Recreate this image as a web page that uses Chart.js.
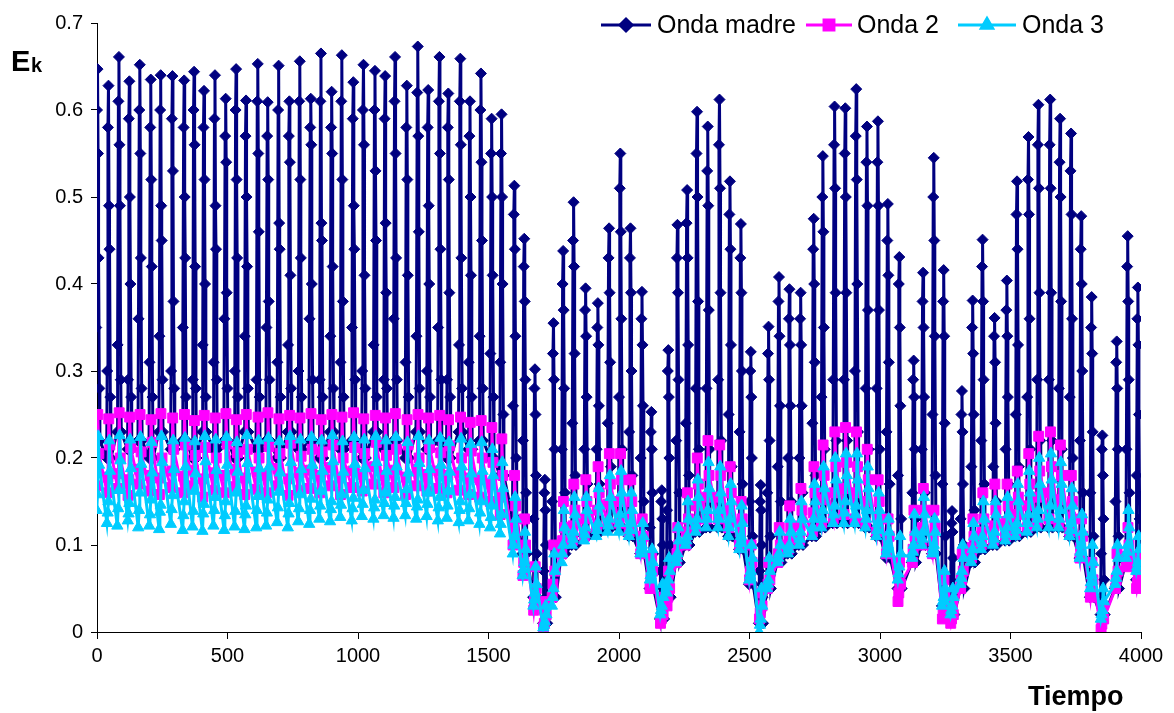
<!DOCTYPE html>
<html>
<head>
<meta charset="utf-8">
<script src="https://cdn.jsdelivr.net/npm/chart.js@4/dist/chart.umd.min.js"></script>
<style>
  html, body { margin: 0; padding: 0; background: #fff; }
  #wrap { width: 1174px; height: 713px; }
</style>
</head>
<body>
<div id="wrap"><canvas id="chart" width="1174" height="713"></canvas></div>
<script>
// time of each oscillation spike
const spikeT = [3,45,85,125,165,207,245,290,335,373,411,453,494,534,572,617,655,697,738,778,
  820,859,900,939,983,1022,1066,1105,1143,1188,1230,1270,1313,1347,1393,1430,1472,1513,1551,1600,
  1638,1679,1717,
  1750,1787,1827,1873,1920,1963,2006,2045,2089,2125,2165,2190,2225,2262,2300,2341,2386,2426,2468,2506,
  2544,2574,2614,2654,2697,2747,2782,2827,2868,2910,2951,2993,3031,3075,3130,3166,3207,3245,3277,3315,
  3356,3394,3440,3487,3526,3570,3608,3653,3691,3733,3772,3812,3853,3908,3950,3989];

// Onda madre: top of each spike, beads on the way up/down, bottom
const madreTop = [0.647,0.628,0.661,0.633,0.652,0.635,0.640,0.639,0.634,0.644,0.622,0.640,0.613,0.647,0.611,0.653,0.609,0.651,0.610,0.656,
  0.613,0.665,0.621,0.663,0.632,0.652,0.645,0.639,0.661,0.628,0.673,0.623,0.661,0.619,0.659,0.610,0.642,0.590,0.595,0.513,
  0.452,0.302,0.175,
  0.355,0.438,0.494,0.395,0.378,0.464,0.550,0.464,0.391,0.253,0.163,0.324,0.468,0.508,0.598,0.581,0.612,0.518,0.469,0.322,
  0.169,0.351,0.408,0.394,0.390,0.475,0.547,0.604,0.602,0.624,0.581,0.587,0.492,0.431,0.312,0.413,0.545,0.416,0.139,0.277,
  0.381,0.451,0.361,0.404,0.518,0.569,0.606,0.612,0.590,0.573,0.478,0.385,0.226,0.334,0.455,0.396];
const madreM4 = [0.60,0.58,0.61,0.59,0.60,0.58,0.60,0.59,0.58,0.60,0.58,0.59,0.57,0.60,0.57,0.61,0.57,0.60,0.57,0.61,
  0.58,0.61,0.58,0.61,0.59,0.60,0.60,0.59,0.61,0.58,0.62,0.58,0.61,0.58,0.61,0.57,0.60,0.55,0.55,0.48,
  0.42,0.28,0.16,
  0.32,0.40,0.45,0.37,0.35,0.43,0.51,0.43,0.36,0.23,0.15,0.30,0.43,0.47,0.55,0.53,0.56,0.48,0.43,0.30,
  0.15,0.32,0.38,0.36,0.36,0.44,0.50,0.56,0.55,0.57,0.54,0.54,0.45,0.40,0.29,0.38,0.50,0.38,0.125,0.25,
  0.35,0.42,0.34,0.37,0.48,0.52,0.56,0.56,0.54,0.53,0.44,0.35,0.21,0.31,0.42,0.36];
const madreM2 = [0.55,0.49,0.56,0.50,0.55,0.52,0.49,0.53,0.50,0.56,0.52,0.49,0.54,0.52,0.50,0.55,0.52,0.47,0.54,0.52,
  0.56,0.47,0.55,0.52,0.49,0.56,0.53,0.47,0.55,0.52,0.57,0.49,0.55,0.52,0.56,0.50,0.54,0.50,0.50,0.44,
  0.38,0.25,0.14,
  0.29,0.37,0.42,0.34,0.33,0.39,0.46,0.39,0.33,0.21,0.13,0.27,0.39,0.43,0.50,0.49,0.51,0.44,0.39,0.27,
  0.14,0.29,0.34,0.33,0.33,0.40,0.46,0.51,0.50,0.52,0.49,0.49,0.41,0.35,0.27,0.35,0.45,0.34,0.115,0.23,
  0.32,0.38,0.31,0.34,0.44,0.48,0.51,0.51,0.50,0.48,0.40,0.32,0.18,0.28,0.38,0.33];
const madreM3 = [0.43,0.44,0.49,0.40,0.43,0.42,0.45,0.38,0.43,0.42,0.40,0.44,0.39,0.43,0.42,0.46,0.38,0.44,0.41,0.43,
  0.40,0.45,0.42,0.38,0.44,0.41,0.45,0.39,0.43,0.41,0.46,0.40,0.44,0.39,0.43,0.41,0.45,0.41,0.40,0.34,
  0.29,0.18,0.10,
  0.21,0.28,0.32,0.27,0.26,0.31,0.36,0.30,0.26,0.16,0.10,0.20,0.29,0.33,0.38,0.37,0.39,0.33,0.30,0.20,
  0.10,0.22,0.26,0.26,0.26,0.31,0.35,0.39,0.39,0.40,0.37,0.37,0.31,0.26,0.21,0.27,0.34,0.24,0.085,0.17,
  0.25,0.29,0.24,0.27,0.33,0.36,0.39,0.39,0.38,0.36,0.30,0.23,0.13,0.21,0.29,0.25];
const madreM1 = [0.35,0.30,0.33,0.29,0.36,0.31,0.34,0.30,0.35,0.29,0.33,0.31,0.36,0.30,0.34,0.29,0.35,0.31,0.33,0.30,
  0.36,0.29,0.34,0.31,0.35,0.30,0.33,0.29,0.36,0.31,0.34,0.30,0.35,0.29,0.33,0.31,0.34,0.32,0.31,0.26,
  0.22,0.13,0.07,
  0.15,0.21,0.24,0.21,0.21,0.24,0.27,0.23,0.20,0.12,0.07,0.14,0.22,0.24,0.28,0.28,0.29,0.25,0.23,0.15,
  0.07,0.16,0.19,0.20,0.20,0.24,0.27,0.29,0.29,0.30,0.28,0.28,0.23,0.18,0.16,0.21,0.25,0.17,0.06,0.13,
  0.19,0.22,0.19,0.21,0.25,0.27,0.29,0.29,0.28,0.27,0.22,0.16,0.09,0.15,0.21,0.18];
const madreM5 = [0.28,0.27,0.29,0.27,0.28,0.27,0.29,0.28,0.27,0.28,0.27,0.29,0.28,0.27,0.28,0.27,0.29,0.27,0.28,0.27,
  0.29,0.27,0.28,0.27,0.29,0.28,0.27,0.28,0.29,0.27,0.28,0.27,0.29,0.27,0.28,0.27,0.28,0.27,0.25,0.20,
  0.16,0.09,0.04,
  0.10,0.16,0.18,0.17,0.17,0.19,0.21,0.18,0.15,0.09,0.045,0.10,0.16,0.18,0.21,0.21,0.22,0.19,0.17,0.11,
  0.04,0.11,0.15,0.15,0.16,0.18,0.21,0.22,0.22,0.23,0.21,0.21,0.17,0.13,0.13,0.16,0.18,0.11,0.045,0.10,
  0.14,0.17,0.15,0.17,0.19,0.21,0.22,0.22,0.21,0.20,0.16,0.11,0.06,0.11,0.16,0.13];
const madreLow = [0.22,0.20,0.23,0.21,0.22,0.20,0.23,0.21,0.22,0.20,0.23,0.21,0.22,0.20,0.23,0.21,0.22,0.20,0.23,0.21,
  0.22,0.20,0.23,0.21,0.22,0.20,0.23,0.21,0.22,0.20,0.23,0.21,0.22,0.20,0.23,0.21,0.22,0.20,0.18,0.13,
  0.09,0.04,0.01,
  0.04,0.09,0.10,0.11,0.115,0.12,0.12,0.11,0.09,0.05,0.015,0.04,0.08,0.10,0.115,0.12,0.12,0.11,0.095,0.055,
  0.01,0.05,0.08,0.09,0.10,0.11,0.12,0.125,0.125,0.125,0.12,0.11,0.085,0.05,0.08,0.10,0.09,0.03,0.02,0.05,
  0.08,0.095,0.10,0.105,0.11,0.115,0.12,0.12,0.12,0.11,0.085,0.04,0.02,0.05,0.08,0.06];

// Onda 2
const onda2Top = [0.25,0.245,0.252,0.247,0.25,0.244,0.251,0.246,0.25,0.243,0.249,0.246,0.251,0.244,0.25,0.247,0.252,0.245,0.249,0.246,
  0.251,0.244,0.25,0.247,0.252,0.245,0.249,0.246,0.251,0.244,0.25,0.246,0.249,0.244,0.247,0.241,0.243,0.235,0.222,0.18,
  0.13,0.075,0.035,
  0.10,0.15,0.17,0.175,0.19,0.205,0.205,0.175,0.13,0.085,0.04,0.07,0.12,0.16,0.20,0.22,0.215,0.19,0.15,0.10,
  0.045,0.08,0.12,0.145,0.165,0.19,0.215,0.23,0.235,0.23,0.21,0.175,0.13,0.08,0.14,0.165,0.14,0.06,0.03,0.09,
  0.13,0.16,0.17,0.17,0.185,0.205,0.225,0.23,0.215,0.18,0.13,0.08,0.03,0.09,0.12,0.085];
const onda2Mid = [0.205,0.215,0.2,0.212,0.207,0.218,0.2,0.21,0.215,0.203,0.212,0.2,0.216,0.206,0.21,0.2,0.213,0.205,0.217,0.202,
  0.21,0.207,0.215,0.2,0.212,0.205,0.218,0.203,0.21,0.215,0.2,0.212,0.206,0.214,0.2,0.208,0.2,0.195,0.18,0.145,
  0.10,0.05,0.02,
  0.07,0.12,0.14,0.15,0.16,0.17,0.175,0.15,0.11,0.07,0.02,0.05,0.10,0.13,0.17,0.18,0.18,0.16,0.13,0.08,
  0.03,0.06,0.10,0.12,0.14,0.16,0.18,0.19,0.195,0.19,0.175,0.15,0.11,0.055,0.11,0.14,0.12,0.04,0.02,0.07,
  0.11,0.13,0.14,0.145,0.155,0.17,0.185,0.19,0.18,0.15,0.11,0.06,0.015,0.07,0.10,0.065];
const onda2Mid2 = [0.185,0.178,0.182,0.175,0.187,0.18,0.177,0.185,0.179,0.186,0.176,0.183,0.18,0.187,0.177,0.184,0.18,0.188,0.176,0.183,
  0.186,0.18,0.189,0.177,0.185,0.181,0.19,0.18,0.186,0.178,0.187,0.181,0.185,0.18,0.183,0.177,0.175,0.17,0.155,0.12,
  0.08,0.035,0.01,
  0.055,0.105,0.122,0.13,0.14,0.147,0.15,0.132,0.10,0.06,0.015,0.04,0.09,0.115,0.145,0.155,0.155,0.14,0.115,0.07,
  0.022,0.055,0.09,0.107,0.122,0.137,0.152,0.16,0.165,0.16,0.15,0.132,0.10,0.045,0.095,0.12,0.105,0.027,0.015,0.06,
  0.097,0.115,0.122,0.127,0.135,0.145,0.155,0.16,0.152,0.132,0.097,0.05,0.009,0.06,0.087,0.057];
const onda2Low = [0.168,0.16,0.165,0.157,0.17,0.162,0.158,0.166,0.16,0.168,0.155,0.163,0.16,0.167,0.158,0.164,0.16,0.168,0.157,0.163,
  0.165,0.16,0.168,0.158,0.166,0.162,0.17,0.16,0.166,0.158,0.168,0.162,0.165,0.16,0.163,0.158,0.155,0.15,0.135,0.10,
  0.065,0.025,0.005,
  0.04,0.09,0.105,0.11,0.12,0.125,0.125,0.115,0.09,0.05,0.01,0.03,0.08,0.10,0.12,0.13,0.13,0.12,0.10,0.06,
  0.015,0.05,0.08,0.095,0.105,0.115,0.125,0.13,0.135,0.13,0.125,0.115,0.09,0.035,0.08,0.10,0.09,0.015,0.01,0.05,
  0.085,0.10,0.105,0.11,0.115,0.12,0.125,0.13,0.125,0.115,0.085,0.04,0.003,0.05,0.075,0.05];

// Onda 3
const onda3Top = [0.225,0.22,0.226,0.221,0.224,0.218,0.225,0.22,0.223,0.219,0.225,0.221,0.224,0.218,0.226,0.22,0.223,0.219,0.225,0.221,
  0.224,0.22,0.226,0.219,0.224,0.221,0.225,0.22,0.224,0.218,0.225,0.22,0.223,0.218,0.222,0.216,0.218,0.21,0.195,0.155,
  0.115,0.075,0.03,
  0.09,0.14,0.155,0.155,0.165,0.18,0.185,0.16,0.125,0.095,0.055,0.085,0.12,0.15,0.175,0.195,0.19,0.17,0.145,0.10,
  0.05,0.085,0.115,0.13,0.15,0.17,0.19,0.20,0.205,0.205,0.19,0.16,0.13,0.11,0.135,0.155,0.13,0.07,0.05,0.10,
  0.125,0.15,0.15,0.155,0.17,0.185,0.20,0.205,0.195,0.165,0.135,0.10,0.05,0.10,0.14,0.11];
const onda3M1 = [0.192,0.185,0.197,0.188,0.193,0.183,0.195,0.187,0.19,0.182,0.196,0.186,0.192,0.184,0.194,0.188,0.19,0.183,0.195,0.187,
  0.192,0.185,0.196,0.184,0.193,0.188,0.195,0.185,0.19,0.183,0.194,0.187,0.192,0.184,0.19,0.182,0.185,0.18,0.165,0.13,
  0.095,0.055,0.02,
  0.07,0.12,0.135,0.14,0.145,0.155,0.16,0.14,0.11,0.08,0.04,0.07,0.105,0.13,0.155,0.165,0.16,0.15,0.125,0.085,
  0.03,0.07,0.10,0.115,0.13,0.15,0.165,0.175,0.18,0.175,0.165,0.14,0.115,0.09,0.115,0.135,0.115,0.05,0.04,0.085,
  0.11,0.13,0.135,0.135,0.15,0.16,0.17,0.175,0.17,0.145,0.115,0.08,0.035,0.085,0.12,0.095];
const onda3M2 = [0.158,0.15,0.163,0.148,0.16,0.152,0.146,0.157,0.15,0.162,0.147,0.155,0.15,0.16,0.145,0.156,0.152,0.161,0.148,0.158,
  0.153,0.162,0.15,0.158,0.154,0.163,0.152,0.16,0.155,0.164,0.152,0.16,0.155,0.162,0.15,0.158,0.15,0.145,0.135,0.11,
  0.08,0.045,0.012,
  0.05,0.10,0.115,0.12,0.125,0.13,0.135,0.125,0.10,0.07,0.03,0.06,0.09,0.11,0.13,0.14,0.14,0.13,0.11,0.07,
  0.015,0.06,0.09,0.10,0.115,0.13,0.14,0.145,0.15,0.145,0.14,0.125,0.10,0.075,0.10,0.115,0.10,0.04,0.03,0.07,
  0.095,0.11,0.115,0.12,0.125,0.135,0.14,0.145,0.14,0.125,0.10,0.065,0.025,0.07,0.10,0.08];
const onda3M3 = [0.14,0.137,0.142,0.136,0.14,0.135,0.138,0.141,0.134,0.139,0.136,0.14,0.134,0.139,0.135,0.14,0.137,0.143,0.136,0.142,
  0.14,0.145,0.141,0.146,0.142,0.147,0.143,0.148,0.145,0.148,0.144,0.147,0.143,0.145,0.14,0.142,0.137,0.132,0.124,0.10,
  0.072,0.037,0.008,
  0.04,0.09,0.107,0.112,0.117,0.122,0.125,0.117,0.095,0.065,0.025,0.052,0.085,0.105,0.122,0.13,0.13,0.12,0.102,0.065,
  0.008,0.055,0.085,0.095,0.107,0.12,0.13,0.135,0.137,0.135,0.13,0.117,0.095,0.067,0.092,0.107,0.095,0.035,0.025,0.062,
  0.087,0.102,0.107,0.112,0.117,0.125,0.13,0.132,0.13,0.117,0.092,0.057,0.02,0.062,0.092,0.075];
const onda3Low = [0.13,0.125,0.122,0.128,0.12,0.122,0.118,0.124,0.117,0.121,0.116,0.122,0.117,0.121,0.118,0.12,0.122,0.126,0.12,0.127,
  0.124,0.13,0.127,0.132,0.128,0.133,0.13,0.134,0.131,0.134,0.13,0.133,0.128,0.131,0.126,0.128,0.124,0.12,0.113,0.09,
  0.065,0.03,0.005,
  0.03,0.08,0.10,0.105,0.11,0.115,0.115,0.11,0.09,0.06,0.02,0.045,0.08,0.10,0.115,0.12,0.12,0.11,0.095,0.06,
  0.0,0.05,0.08,0.09,0.10,0.11,0.12,0.125,0.125,0.125,0.12,0.11,0.09,0.06,0.085,0.10,0.09,0.03,0.02,0.055,
  0.08,0.095,0.10,0.105,0.11,0.115,0.12,0.12,0.12,0.11,0.085,0.05,0.015,0.055,0.085,0.07];

const xTicks = [0, 500, 1000, 1500, 2000, 2500, 3000, 3500, 4000];
const yTicks = [0, 0.1, 0.2, 0.3, 0.4, 0.5, 0.6, 0.7];

const NAVY = '#000080';
const PINK = '#FF00FF';
const CYAN = '#00CCFF';

// each spike is a handful of samples a few time units apart
function spikePoints(offsets, cols) {
    const pts = [];
    spikeT.forEach((t, i) => {
        offsets.forEach((dx, k) => {
            if (cols[k][i] !== undefined) pts.push({ x: t + dx, y: cols[k][i] });
        });
    });
    return pts;
}

const madreData = spikePoints([-8, -6, -3, -1, 1, 3, 6, 8],
    [madreLow, madreM1, madreM4, madreTop, madreM2, madreM3, madreM5, madreLow]);
const onda2Data = spikePoints([-6, -3, 0, 4], [onda2Low, onda2Mid2, onda2Top, onda2Mid]);
const onda3Data = spikePoints([-7, -4, -1, 2, 5], [onda3Low, onda3M3, onda3M2, onda3Top, onda3M1]);

const FONT = 'Arial, "Liberation Sans", sans-serif';
Chart.defaults.font.family = FONT;
Chart.defaults.color = '#000';

const legendItems = [
    { label: 'Onda madre', color: NAVY, style: 'rectRot', radius: 6, x0: 601, x1: 651, tx: 657 },
    { label: 'Onda 2', color: PINK, style: 'rect', radius: 7, x0: 806, x1: 852, tx: 857 },
    { label: 'Onda 3', color: CYAN, style: 'triangle', radius: 6.5, x0: 958, x1: 1016, tx: 1022 }
];

// axis titles and legend drawn by hand to match the original layout
const decorPlugin = {
    id: 'decor',
    afterDraw(chart) {
        const ctx = chart.ctx;
        ctx.save();
        ctx.fillStyle = '#000';
        ctx.textBaseline = 'alphabetic';
        ctx.textAlign = 'left';
        ctx.font = 'bold 29px ' + FONT;
        ctx.fillText('E', 11, 71);
        ctx.font = 'bold 20px ' + FONT;
        ctx.fillText('k', 31, 72);
        ctx.font = 'bold 27px ' + FONT;
        ctx.fillText('Tiempo', 1028, 705);

        const ly = 25;
        legendItems.forEach(it => {
            ctx.strokeStyle = it.color;
            ctx.fillStyle = it.color;
            ctx.lineWidth = 3;
            ctx.beginPath();
            ctx.moveTo(it.x0, ly);
            ctx.lineTo(it.x1, ly);
            ctx.stroke();
            Chart.helpers.drawPoint(ctx, { pointStyle: it.style, radius: it.radius, rotation: 0, borderWidth: 1 },
                (it.x0 + it.x1) / 2, ly);
            ctx.fillStyle = '#000';
            ctx.font = '25px ' + FONT;
            ctx.textBaseline = 'middle';
            ctx.fillText(it.label, it.tx, ly + 1);
        });
        ctx.restore();
    }
};

const ctx = document.getElementById('chart').getContext('2d');
new Chart(ctx, {
    type: 'line',
    data: {
        datasets: [
            {
                label: 'Onda madre',
                data: madreData,
                borderColor: NAVY,
                backgroundColor: NAVY,
                borderWidth: 3,
                pointStyle: 'rectRot',
                pointRadius: 5.5,
                pointBorderWidth: 1,
                tension: 0,
                order: 3
            },
            {
                label: 'Onda 2',
                data: onda2Data,
                borderColor: PINK,
                backgroundColor: PINK,
                borderWidth: 3,
                pointStyle: 'rect',
                pointRadius: 7,
                pointBorderWidth: 1,
                tension: 0,
                order: 2
            },
            {
                label: 'Onda 3',
                data: onda3Data,
                borderColor: CYAN,
                backgroundColor: CYAN,
                borderWidth: 3,
                pointStyle: 'triangle',
                pointRadius: 6.5,
                pointBorderWidth: 1,
                tension: 0,
                order: 1
            }
        ]
    },
    options: {
        responsive: false,
        animation: false,
        devicePixelRatio: 1,
        layout: { padding: { top: 23, right: 33, left: 0, bottom: 0 } },
        plugins: {
            legend: { display: false },
            tooltip: { enabled: false }
        },
        scales: {
            x: {
                type: 'linear',
                min: 0,
                max: 4000,
                afterBuildTicks: s => { s.ticks = xTicks.map(v => ({ value: v })); },
                ticks: { color: '#000', font: { size: 20 }, padding: 5, maxRotation: 0, autoSkip: false,
                         callback: v => String(v) },
                grid: { drawOnChartArea: false, color: '#000', tickLength: 7, lineWidth: 1 },
                border: { display: true, color: '#000', width: 1 },
                afterFit: s => { s.height = 81; }
            },
            y: {
                type: 'linear',
                min: 0,
                max: 0.7,
                afterBuildTicks: s => { s.ticks = yTicks.map(v => ({ value: v })); },
                ticks: { color: '#000', font: { size: 20 }, padding: 8, autoSkip: false,
                         callback: v => String(Math.round(v * 10) / 10) },
                grid: { drawOnChartArea: false, color: '#000', tickLength: 6, lineWidth: 1 },
                border: { display: true, color: '#000', width: 1 },
                afterFit: s => { s.width = 97; }
            }
        }
    },
    plugins: [decorPlugin]
});
</script>
</body>
</html>
